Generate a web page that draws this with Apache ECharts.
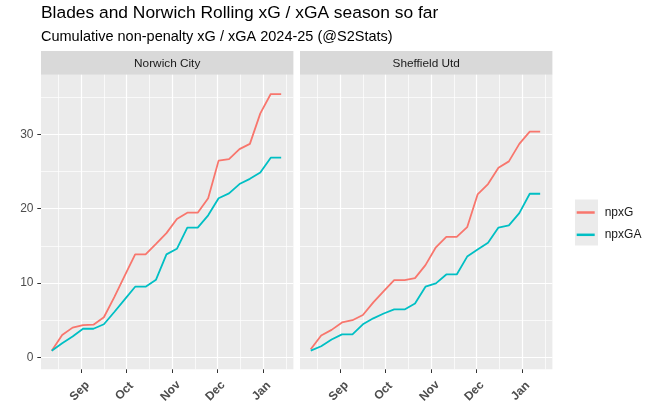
<!DOCTYPE html>
<html>
<head>
<meta charset="utf-8">
<script src="https://cdn.jsdelivr.net/npm/echarts@6/dist/echarts.min.js"></script>
<style>
  html, body { margin: 0; padding: 0; background: #fff; }
  #chart { width: 650px; height: 420px; }
</style>
</head>
<body>
<div id="chart"></div>
<script>
// weekly cumulative values (Mondays)
const weeks = ['2024-08-12', '2024-08-19', '2024-08-26', '2024-09-02', '2024-09-09', '2024-09-16',
  '2024-09-23', '2024-09-30', '2024-10-07', '2024-10-14', '2024-10-21', '2024-10-28', '2024-11-04',
  '2024-11-11', '2024-11-18', '2024-11-25', '2024-12-02', '2024-12-09', '2024-12-16', '2024-12-23',
  '2024-12-30', '2025-01-06', '2025-01-13'];
const norwichXG = [0.9, 3.0, 4.0, 4.35, 4.4, 5.4, 8.1, 11.0, 13.85, 13.85, 15.25, 16.7, 18.6, 19.45, 19.45, 21.4, 26.45, 26.65, 28.0, 28.7, 32.8, 35.4, 35.4];
const norwichXGA = [0.9, 1.9, 2.8, 3.85, 3.85, 4.45, 6.1, 7.8, 9.5, 9.5, 10.45, 13.85, 14.6, 17.45, 17.45, 19.1, 21.4, 22.05, 23.3, 24.0, 24.85, 26.85, 26.85];
const sheffXG = [1.1, 2.95, 3.7, 4.7, 5.0, 5.7, 7.4, 8.9, 10.4, 10.4, 10.65, 12.4, 14.8, 16.2, 16.2, 17.5, 21.9, 23.3, 25.5, 26.35, 28.7, 30.35, 30.35];
const sheffXGA = [0.9, 1.5, 2.4, 3.1, 3.1, 4.45, 5.25, 5.9, 6.45, 6.45, 7.25, 9.5, 9.95, 11.15, 11.15, 13.55, 14.5, 15.4, 17.45, 17.75, 19.4, 22.0, 22.0];

const panels = ['Norwich City', 'Sheffield Utd'];
const seriesNames = ['npxG', 'npxGA'];
const monthTicks = ['2024-09-01', '2024-10-01', '2024-11-01', '2024-12-01', '2025-01-01'];
const monthLabels = ['Sep', 'Oct', 'Nov', 'Dec', 'Jan'];
const minorMonthTicks = ['2024-08-16T12:00', '2024-09-16', '2024-10-16T12:00', '2024-11-16', '2024-12-16T12:00', '2025-01-16T12:00'];
const yTicks = [0, 10, 20, 30];
const yMinorTicks = [5, 15, 25, 35];

// dates -> ms so a plain value axis can place them
const ts = s => new Date(s.includes('T') ? s : s + 'T00:00').getTime();
const xMin = ts('2024-08-04T19:00');
const xMax = ts('2025-01-21T05:00');
const labelOf = {};
monthTicks.forEach((m, i) => { labelOf[ts(m)] = monthLabels[i]; });

const colors = ['#F8766D', '#00BFC4'];
const font = 'Liberation Sans, Arial, sans-serif';
const gridLefts = [41, 300];
const gridW = 252.4;
const gridTop = 74.7;
const gridH = 294.6;

const chart = echarts.init(document.getElementById('chart'), null, { renderer: 'canvas' });

const grids = gridLefts.map(l => ({ left: l, top: gridTop, width: gridW, height: gridH, show: true, backgroundColor: '#EBEBEB', borderWidth: 0 }));

const xAxes = [];
const yAxes = [];
gridLefts.forEach((l, g) => {
  xAxes.push({
    type: 'value', gridIndex: g, min: xMin, max: xMax, position: 'bottom',
    axisLine: { show: false, onZero: false },
    axisTick: { show: false, customValues: minorMonthTicks.map(ts) },
    axisLabel: { show: false, customValues: minorMonthTicks.map(ts) },
    splitLine: { show: true, lineStyle: { color: '#FFFFFF', width: 0.7 } }
  });
  xAxes.push({
    type: 'value', gridIndex: g, min: xMin, max: xMax, position: 'bottom',
    axisLine: { show: false, onZero: false },
    axisTick: { show: true, length: 3.7, customValues: monthTicks.map(ts), lineStyle: { color: '#333333', width: 1 } },
    axisLabel: {
      show: true, customValues: monthTicks.map(ts),
      formatter: v => labelOf[v] || '',
      rotate: 45, align: 'center', verticalAlign: 'middle', margin: 20,
      padding: [0, 5, 0, 0],
      color: '#4D4D4D', fontSize: 12, fontWeight: 'bold', fontFamily: font
    },
    splitLine: { show: true, lineStyle: { color: '#FFFFFF', width: 1.2 } }
  });
  yAxes.push({
    type: 'value', gridIndex: g, min: -1.6, max: 38, position: 'left',
    axisLine: { show: false, onZero: false },
    axisTick: { show: false, customValues: yMinorTicks },
    axisLabel: { show: false, customValues: yMinorTicks },
    splitLine: { show: true, lineStyle: { color: '#FFFFFF', width: 0.7 } }
  });
  yAxes.push({
    type: 'value', gridIndex: g, min: -1.6, max: 38, position: 'left',
    axisLine: { show: false, onZero: false },
    axisTick: { show: g === 0, length: 3.7, customValues: yTicks, lineStyle: { color: '#333333', width: 1 } },
    axisLabel: { show: g === 0, customValues: yTicks, margin: 7.5, color: '#4D4D4D', fontSize: 12, fontFamily: font },
    splitLine: { show: true, lineStyle: { color: '#FFFFFF', width: 1.2 } }
  });
});

const teamData = [[norwichXG, norwichXGA], [sheffXG, sheffXGA]];
const series = [];
teamData.forEach((pair, g) => {
  pair.forEach((vals, k) => {
    series.push({
      name: seriesNames[k],
      type: 'line',
      xAxisIndex: g * 2 + 1,
      yAxisIndex: g * 2 + 1,
      showSymbol: false,
      symbol: 'none',
      animation: false,
      lineStyle: { color: colors[k], width: 1.8 },
      itemStyle: { color: colors[k] },
      data: weeks.map((w, i) => [ts(w), vals[i]])
    });
  });
});

const option = {
  backgroundColor: '#FFFFFF',
  animation: false,
  title: [
    { text: 'Blades and Norwich Rolling xG / xGA season so far', left: 41, top: 4.5, padding: 0,
      textStyle: { fontSize: 17.4, fontWeight: 'normal', color: '#000000', fontFamily: font } },
    { text: 'Cumulative non-penalty xG / xGA 2024-25 (@S2Stats)', left: 41, top: 29.5, padding: 0,
      textStyle: { fontSize: 14.5, fontWeight: 'normal', color: '#000000', fontFamily: font } }
  ],
  legend: {
    data: seriesNames,
    orient: 'vertical',
    left: 576.7, top: 205.5, padding: 0,
    icon: 'rect', itemWidth: 18, itemHeight: 2.5, itemGap: 8.3,
    textStyle: { fontSize: 12, color: '#1A1A1A', fontFamily: font, lineHeight: 14, padding: [0, 0, 0, 5] }
  },
  graphic: [
    { type: 'rect', shape: { x: 575, y: 199.5, width: 23, height: 46 }, style: { fill: '#EBEBEB' }, z: -1 },
    ...gridLefts.map((l, g) => ({
      type: 'group',
      children: [
        { type: 'rect', shape: { x: l, y: 51, width: gridW, height: 23.7 }, style: { fill: '#D9D9D9' } },
        { type: 'text', x: l + gridW / 2, y: 63.5,
          style: { text: panels[g], textAlign: 'center', textVerticalAlign: 'middle', fill: '#1A1A1A', fontSize: 11.8, fontFamily: font } }
      ]
    }))
  ],
  grid: grids,
  xAxis: xAxes,
  yAxis: yAxes,
  series: series
};
chart.setOption(option);
</script>
</body>
</html>
